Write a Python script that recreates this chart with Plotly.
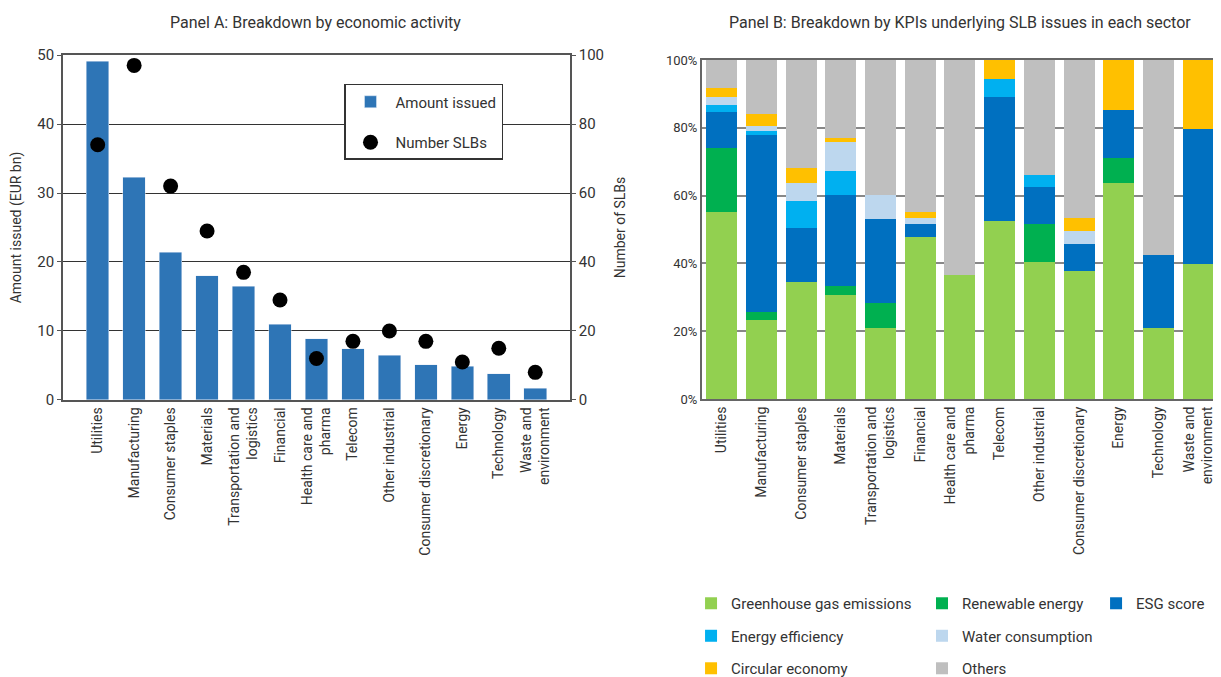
import plotly.graph_objects as go

sectors = ["Utilities", "Manufacturing", "Consumer staples", "Materials",
           "Transportation and<br>logistics", "Financial", "Health care and<br>pharma",
           "Telecom", "Other industrial", "Consumer discretionary", "Energy",
           "Technology", "Waste and<br>environment"]

amount_issued = [49.1, 32.3, 21.4, 18.0, 16.5, 11.0, 8.9, 7.4, 6.5, 5.1, 4.9, 3.8, 1.7]
number_slbs = [74, 97, 62, 49, 37, 29, 12, 17, 20, 17, 11, 15, 8]

ghg = [55.3, 23.2, 34.4, 30.6, 20.9, 47.9, 36.5, 52.4, 40.3, 37.9, 63.8, 20.9, 39.7]
renewable = [18.8, 2.4, 0, 2.6, 7.3, 0, 0, 0, 11.2, 0, 7.4, 0, 0]
esg = [10.6, 52.4, 15.9, 27.1, 25.0, 3.6, 0, 36.7, 11.1, 7.7, 14.1, 21.7, 40.0]
energy_eff = [2.1, 1.2, 8.2, 7.1, 0, 0, 0, 5.3, 3.6, 0, 0, 0, 0]
water = [2.3, 1.2, 5.3, 8.5, 7.1, 2.0, 0, 0, 0, 4.1, 0, 0, 0]
circular = [2.5, 3.8, 4.2, 1.2, 0, 1.8, 0, 5.6, 0, 3.8, 14.7, 0, 20.3]
others = [8.4, 15.8, 32.0, 22.9, 39.7, 44.7, 63.5, 0, 33.8, 46.5, 0, 57.4, 0]

FONT = "Roboto, DejaVu Sans, sans-serif"
TXT = "#333333"

fig = go.Figure()

# Panel A
fig.add_trace(go.Bar(x=sectors, y=amount_issued, name="Amount issued",
                     marker_color="#2E75B6", width=0.62, xaxis="x", yaxis="y",
                     legend="legend", legendgroup="a1"))
fig.add_trace(go.Scatter(x=sectors, y=number_slbs, name="Number SLBs", mode="markers",
                         marker=dict(color="black", size=15), xaxis="x", yaxis="y2",
                         legend="legend", legendgroup="a2"))

# Panel B
series = [
    ("Greenhouse gas emissions", ghg, "#92D050", "legend2"),
    ("Renewable energy", renewable, "#00B050", "legend3"),
    ("ESG score", esg, "#0070C0", "legend4"),
    ("Energy efficiency", energy_eff, "#00B0F0", "legend2"),
    ("Water consumption", water, "#BDD7EE", "legend3"),
    ("Circular economy", circular, "#FFC000", "legend2"),
    ("Others", others, "#BFBFBF", "legend3"),
]
for i, (name, vals, col, lg) in enumerate(series):
    fig.add_trace(go.Bar(x=sectors, y=vals, name=name, marker_color=col,
                         marker_line_width=0, width=0.78, xaxis="x2", yaxis="y3",
                         legend=lg, legendgroup=f"g{i}"))

fig.update_layout(
    width=1213, height=669,
    margin=dict(l=0, r=0, t=0, b=0, autoexpand=False),
    paper_bgcolor="white", plot_bgcolor="white",
    font=dict(family=FONT, size=14, color=TXT),
    barmode="stack",
    showlegend=True,
    xaxis=dict(domain=[0.0453, 0.4633], tickangle=-90, showline=True, linecolor="#555555",
               linewidth=1.5, mirror=True, ticks="", tickfont=dict(size=14, color=TXT)),
    yaxis=dict(range=[0, 50], dtick=10, domain=[0.4141, 0.9297], showgrid=True,
               gridcolor="#333333", gridwidth=1, showline=True, linecolor="#555555",
               linewidth=1.5, ticks="outside", ticklen=4, tickcolor="#555555",
               tickfont=dict(size=15, color=TXT), zeroline=False,
               title=dict(text="Amount issued (EUR bn)", font=dict(size=14, color=TXT), standoff=12)),
    yaxis2=dict(range=[0, 100], dtick=20, overlaying="y", side="right", showgrid=False,
                showline=True, linecolor="#555555", linewidth=1.5, ticks="outside",
                ticklen=4, tickcolor="#555555", tickfont=dict(size=15, color=TXT), zeroline=False,
                title=dict(text="Number of SLBs", font=dict(size=14, color=TXT), standoff=12)),
    xaxis2=dict(domain=[0.5721, 0.9975], anchor="y3", tickangle=-90, showline=True,
                linecolor="#666666", linewidth=2, mirror=True, ticks="",
                tickfont=dict(size=14, color=TXT)),
    yaxis3=dict(range=[0, 100], dtick=20, domain=[0.4155, 0.9223], anchor="x2",
                ticksuffix="%", showgrid=True, gridcolor="#888888", gridwidth=2,
                showline=True, linecolor="#666666", linewidth=2, mirror=True,
                tickfont=dict(size=13, color=TXT), zeroline=False),
    legend=dict(x=0.277, y=0.8864, xanchor="left", yanchor="top",
                bordercolor="#333333", borderwidth=1.5, bgcolor="white",
                font=dict(size=15, color=TXT), itemwidth=40, tracegroupgap=18,
                traceorder="grouped"),
    legend2=dict(x=0.5631, y=0.1345, xanchor="left", yanchor="top",
                 font=dict(size=15, color=TXT), tracegroupgap=10, bgcolor="rgba(0,0,0,0)"),
    legend3=dict(x=0.7535, y=0.1345, xanchor="left", yanchor="top",
                 font=dict(size=15, color=TXT), tracegroupgap=10, bgcolor="rgba(0,0,0,0)"),
    legend4=dict(x=0.897, y=0.1345, xanchor="left", yanchor="top",
                 font=dict(size=15, color=TXT), tracegroupgap=10, bgcolor="rgba(0,0,0,0)"),
    annotations=[
        dict(text="Panel A: Breakdown by economic activity", x=0.2539, y=0.979,
             xanchor="center", yanchor="middle",
             xref="paper", yref="paper", showarrow=False, font=dict(size=16, color=TXT)),
        dict(text="Panel B: Breakdown by KPIs underlying SLB issues in each sector", x=0.7848,
             y=0.979, xanchor="center", yanchor="middle",
             xref="paper", yref="paper", showarrow=False, font=dict(size=16, color=TXT)),
    ],
)

fig.write_html("out.html")
